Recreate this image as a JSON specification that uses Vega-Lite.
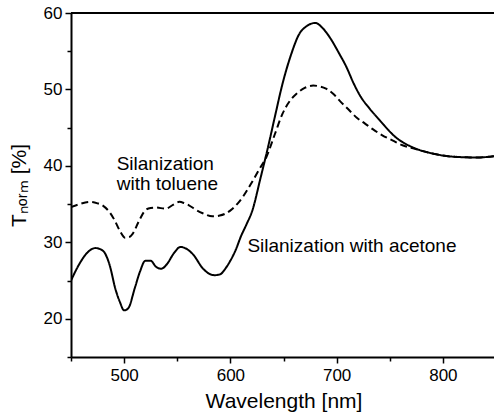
{
  "$schema": "https://vega.github.io/schema/vega-lite/v6.json",
  "width": 425,
  "height": 344,
  "autosize": {"type": "none"},
  "padding": {"left": 71, "top": 13, "right": 0, "bottom": 60},
  "background": "white",
  "config": {
    "view": {"stroke": null},
    "font": "Liberation Sans",
    "axis": {"domainColor": "black", "domainWidth": 2, "tickColor": "black", "tickWidth": 1.5, "grid": false, "labelColor": "black", "titleColor": "black", "labelFont": "Liberation Sans", "titleFont": "Liberation Sans", "labelFontSize": 17, "titleFontSize": 21, "titleFontWeight": "normal"}
  },
  "datasets": {
    "curves": [
      {"wl": 450, "t": 25.0, "s": "acetone"},
      {"wl": 458, "t": 27.2, "s": "acetone"},
      {"wl": 465, "t": 28.6, "s": "acetone"},
      {"wl": 473, "t": 29.25, "s": "acetone"},
      {"wl": 480, "t": 28.9, "s": "acetone"},
      {"wl": 486, "t": 27.2, "s": "acetone"},
      {"wl": 492, "t": 23.8, "s": "acetone"},
      {"wl": 496, "t": 22.2, "s": "acetone"},
      {"wl": 500, "t": 21.1, "s": "acetone"},
      {"wl": 504, "t": 21.4, "s": "acetone"},
      {"wl": 510, "t": 24.0, "s": "acetone"},
      {"wl": 515, "t": 26.2, "s": "acetone"},
      {"wl": 520, "t": 27.6, "s": "acetone"},
      {"wl": 525, "t": 27.6, "s": "acetone"},
      {"wl": 530, "t": 26.8, "s": "acetone"},
      {"wl": 535, "t": 26.55, "s": "acetone"},
      {"wl": 540, "t": 27.1, "s": "acetone"},
      {"wl": 547, "t": 28.6, "s": "acetone"},
      {"wl": 553, "t": 29.4, "s": "acetone"},
      {"wl": 558, "t": 29.2, "s": "acetone"},
      {"wl": 565, "t": 28.4, "s": "acetone"},
      {"wl": 574, "t": 26.6, "s": "acetone"},
      {"wl": 580, "t": 25.9, "s": "acetone"},
      {"wl": 585, "t": 25.7, "s": "acetone"},
      {"wl": 590, "t": 25.8, "s": "acetone"},
      {"wl": 596, "t": 26.7, "s": "acetone"},
      {"wl": 600, "t": 27.6, "s": "acetone"},
      {"wl": 605, "t": 29.0, "s": "acetone"},
      {"wl": 610, "t": 30.8, "s": "acetone"},
      {"wl": 615, "t": 32.3, "s": "acetone"},
      {"wl": 621, "t": 34.3, "s": "acetone"},
      {"wl": 628, "t": 38.2, "s": "acetone"},
      {"wl": 635, "t": 42.2, "s": "acetone"},
      {"wl": 642, "t": 46.5, "s": "acetone"},
      {"wl": 649, "t": 50.7, "s": "acetone"},
      {"wl": 657, "t": 54.5, "s": "acetone"},
      {"wl": 665, "t": 57.3, "s": "acetone"},
      {"wl": 671, "t": 58.2, "s": "acetone"},
      {"wl": 680, "t": 58.7, "s": "acetone"},
      {"wl": 687, "t": 58.0, "s": "acetone"},
      {"wl": 695, "t": 56.5, "s": "acetone"},
      {"wl": 702, "t": 54.8, "s": "acetone"},
      {"wl": 709, "t": 53.0, "s": "acetone"},
      {"wl": 716, "t": 50.8, "s": "acetone"},
      {"wl": 722, "t": 49.2, "s": "acetone"},
      {"wl": 731, "t": 47.5, "s": "acetone"},
      {"wl": 741, "t": 45.9, "s": "acetone"},
      {"wl": 756, "t": 43.7, "s": "acetone"},
      {"wl": 772, "t": 42.4, "s": "acetone"},
      {"wl": 791, "t": 41.6, "s": "acetone"},
      {"wl": 810, "t": 41.2, "s": "acetone"},
      {"wl": 832, "t": 41.1, "s": "acetone"},
      {"wl": 850, "t": 41.3, "s": "acetone"},
      {"wl": 450, "t": 34.6, "s": "toluene"},
      {"wl": 458, "t": 35.0, "s": "toluene"},
      {"wl": 468, "t": 35.3, "s": "toluene"},
      {"wl": 475, "t": 35.1, "s": "toluene"},
      {"wl": 480, "t": 34.8, "s": "toluene"},
      {"wl": 486, "t": 34.0, "s": "toluene"},
      {"wl": 491, "t": 32.9, "s": "toluene"},
      {"wl": 496, "t": 31.5, "s": "toluene"},
      {"wl": 501, "t": 30.6, "s": "toluene"},
      {"wl": 505, "t": 30.7, "s": "toluene"},
      {"wl": 508, "t": 31.1, "s": "toluene"},
      {"wl": 514, "t": 32.8, "s": "toluene"},
      {"wl": 520, "t": 34.2, "s": "toluene"},
      {"wl": 525, "t": 34.5, "s": "toluene"},
      {"wl": 530, "t": 34.55, "s": "toluene"},
      {"wl": 539, "t": 34.4, "s": "toluene"},
      {"wl": 546, "t": 34.9, "s": "toluene"},
      {"wl": 552, "t": 35.3, "s": "toluene"},
      {"wl": 557, "t": 35.1, "s": "toluene"},
      {"wl": 561, "t": 34.85, "s": "toluene"},
      {"wl": 567, "t": 34.3, "s": "toluene"},
      {"wl": 574, "t": 33.8, "s": "toluene"},
      {"wl": 583, "t": 33.4, "s": "toluene"},
      {"wl": 590, "t": 33.5, "s": "toluene"},
      {"wl": 596, "t": 33.8, "s": "toluene"},
      {"wl": 602, "t": 34.4, "s": "toluene"},
      {"wl": 607, "t": 35.1, "s": "toluene"},
      {"wl": 612, "t": 36.0, "s": "toluene"},
      {"wl": 620, "t": 37.8, "s": "toluene"},
      {"wl": 627, "t": 39.5, "s": "toluene"},
      {"wl": 634, "t": 41.2, "s": "toluene"},
      {"wl": 642, "t": 44.2, "s": "toluene"},
      {"wl": 649, "t": 46.8, "s": "toluene"},
      {"wl": 656, "t": 48.5, "s": "toluene"},
      {"wl": 662, "t": 49.4, "s": "toluene"},
      {"wl": 670, "t": 50.2, "s": "toluene"},
      {"wl": 678, "t": 50.5, "s": "toluene"},
      {"wl": 684, "t": 50.4, "s": "toluene"},
      {"wl": 690, "t": 50.1, "s": "toluene"},
      {"wl": 697, "t": 49.4, "s": "toluene"},
      {"wl": 703, "t": 48.5, "s": "toluene"},
      {"wl": 711, "t": 47.4, "s": "toluene"},
      {"wl": 719, "t": 46.3, "s": "toluene"},
      {"wl": 727, "t": 45.5, "s": "toluene"},
      {"wl": 734, "t": 44.8, "s": "toluene"},
      {"wl": 743, "t": 44.0, "s": "toluene"},
      {"wl": 753, "t": 43.3, "s": "toluene"},
      {"wl": 762, "t": 42.7, "s": "toluene"},
      {"wl": 772, "t": 42.3, "s": "toluene"},
      {"wl": 791, "t": 41.6, "s": "toluene"},
      {"wl": 810, "t": 41.2, "s": "toluene"},
      {"wl": 832, "t": 41.1, "s": "toluene"},
      {"wl": 850, "t": 41.3, "s": "toluene"}
    ],
    "labels": [
      {"wl": 493, "t": 40.2, "txt": ["Silanization", "with toluene"]},
      {"wl": 616, "t": 29.5, "txt": ["Silanization with acetone"]}
    ]
  },
  "resolve": {"axis": {"x": "independent", "y": "independent"}},
  "layer": [
    {
      "data": {"name": "curves"},
      "mark": {"type": "line", "color": "black", "strokeWidth": 2, "clip": true, "interpolate": "monotone"},
      "encoding": {
        "x": {"field": "wl", "type": "quantitative", "scale": {"domain": [450, 850], "nice": false}, "title": "Wavelength [nm]",
          "axis": {"orient": "bottom", "values": [500, 600, 700, 800], "tickSize": 6, "labelPadding": 4, "titleY": 44, "titleBaseline": "middle"}},
        "y": {"field": "t", "type": "quantitative", "scale": {"domain": [15, 60], "nice": false}, "title": "Tₙₒᵣₘ [%]",
          "axis": {"orient": "left", "values": [20, 30, 40, 50, 60], "tickSize": 6, "labelPadding": 3, "titleX": -52, "titleBaseline": "middle"}},
        "detail": {"field": "s"},
        "strokeDash": {"field": "s", "type": "nominal", "scale": {"domain": ["acetone", "toluene"], "range": [[1, 0], [7, 4]]}, "legend": null}
      }
    },
    {
      "data": {"name": "curves"},
      "mark": {"type": "point", "opacity": 0},
      "encoding": {
        "x": {"field": "wl", "type": "quantitative", "axis": {"orient": "bottom", "values": [450, 550, 650, 750, 850], "labels": false, "tickSize": 4, "domain": false, "title": null}},
        "y": {"field": "t", "type": "quantitative", "axis": {"orient": "left", "values": [15, 25, 35, 45, 55], "labels": false, "tickSize": 4, "domain": false, "title": null}}
      }
    },
    {
      "data": {"values": [{"v": 60}]},
      "mark": {"type": "rule", "color": "black", "strokeWidth": 2},
      "encoding": {"y": {"field": "v", "type": "quantitative", "axis": null}}
    },
    {
      "data": {"name": "labels"},
      "mark": {"type": "text", "align": "left", "baseline": "middle", "fontSize": 19, "lineHeight": 20, "font": "Liberation Sans", "color": "black"},
      "encoding": {
        "x": {"field": "wl", "type": "quantitative", "axis": null},
        "y": {"field": "t", "type": "quantitative", "axis": null},
        "text": {"field": "txt"}
      }
    }
  ]
}
